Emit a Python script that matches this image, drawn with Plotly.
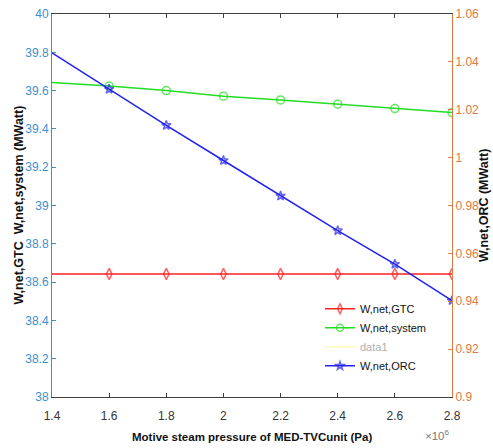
import plotly.graph_objects as go

# Motive steam pressure (Pa)
pressure = [1.4e6, 1.6e6, 1.8e6, 2.0e6, 2.2e6, 2.4e6, 2.6e6, 2.8e6]

# Net power outputs (MWatt)
w_net_gtc = [38.642, 38.642, 38.642, 38.642, 38.642, 38.642, 38.642, 38.642]
w_net_system = [39.642, 39.624, 39.600, 39.571, 39.551, 39.529, 39.506, 39.485]
w_net_orc = [1.0438, 1.0286, 1.0135, 0.9988, 0.9840, 0.9695, 0.9555, 0.9403]

x_ticks = [1.4e6, 1.6e6, 1.8e6, 2.0e6, 2.2e6, 2.4e6, 2.6e6, 2.8e6]
x_tick_text = ["1.4", "1.6", "1.8", "2", "2.2", "2.4", "2.6", "2.8"]
left_ticks = [38, 38.2, 38.4, 38.6, 38.8, 39, 39.2, 39.4, 39.6, 39.8, 40]
right_ticks = [0.9, 0.92, 0.94, 0.96, 0.98, 1, 1.02, 1.04, 1.06]

FONT = "Liberation Sans, Arial"
LEFT_COLOR = "#3b8fce"
RIGHT_COLOR = "#e07a45"
AXIS_GRAY = "#404040"
TITLE_COLOR = "#111111"

# the first sample sits on the axis edge without a visible marker
sizes = [0] + [8] * (len(pressure) - 1)
star_sizes = [0] + [7] * (len(pressure) - 1)

fig = go.Figure()
fig.add_trace(go.Scatter(
    x=pressure, y=w_net_gtc, name="W,net,GTC", mode="lines+markers",
    line=dict(color="#ff2020", width=1.5),
    marker=dict(symbol="diamond-tall-open", size=sizes, color="#ff2020", line=dict(width=1.5)),
))
fig.add_trace(go.Scatter(
    x=pressure, y=w_net_system, name="W,net,system", mode="lines+markers",
    line=dict(color="#22dd22", width=1.5),
    marker=dict(symbol="circle-open", size=sizes, color="#22dd22", line=dict(width=1.5)),
))
fig.add_trace(go.Scatter(
    x=[None], y=[None], name="<span style='color:#b0b0b0'>data1</span>", mode="lines",
    line=dict(color="#ffff99", width=1),
))
fig.add_trace(go.Scatter(
    x=pressure, y=w_net_orc, name="W,net,ORC", mode="lines+markers", yaxis="y2",
    line=dict(color="#2222ee", width=1.5),
    marker=dict(symbol="star-open", size=star_sizes, color="#2222ee", line=dict(width=1.5)),
))

fig.update_layout(
    width=493, height=448,
    margin=dict(l=52, r=41, t=14, b=51),
    paper_bgcolor="white", plot_bgcolor="white",
    font=dict(family=FONT, size=12, color="black"),
    showlegend=True,
    legend=dict(
        x=0.67, y=0.268, xanchor="left", yanchor="top",
        bgcolor="rgba(255,255,255,0)", borderwidth=0,
        font=dict(family=FONT, size=11, color=TITLE_COLOR),
        itemwidth=30, tracegroupgap=0,
    ),
    xaxis=dict(
        range=[1.4e6, 2.8e6], tickvals=x_ticks, ticktext=x_tick_text,
        ticks="inside", ticklen=4, tickcolor=AXIS_GRAY, ticklabelstandoff=8,
        showline=True, linecolor=AXIS_GRAY, linewidth=1, mirror="ticks",
        showgrid=False, zeroline=False, automargin=False,
        tickfont=dict(family=FONT, size=12, color="#333333"),
    ),
    yaxis=dict(
        range=[38, 40], tickvals=left_ticks, ticktext=[f"{v:g}" for v in left_ticks],
        ticks="inside", ticklen=4, tickcolor=LEFT_COLOR,
        showline=True, linecolor=LEFT_COLOR, linewidth=1,
        showgrid=False, zeroline=False, automargin=False,
        tickfont=dict(family=FONT, size=12, color=LEFT_COLOR),
    ),
    yaxis2=dict(
        range=[0.9, 1.06], tickvals=right_ticks, ticktext=[f"{v:g}" for v in right_ticks],
        overlaying="y", side="right",
        ticks="inside", ticklen=4, tickcolor=RIGHT_COLOR,
        showline=True, linecolor=RIGHT_COLOR, linewidth=1,
        showgrid=False, zeroline=False, automargin=False,
        tickfont=dict(family=FONT, size=12, color=RIGHT_COLOR),
    ),
    annotations=[
        # axis titles
        dict(text="<b>Motive steam pressure of MED-TVCunit (Pa)</b>",
             xref="paper", yref="paper", x=0.5, y=-0.104,
             xanchor="center", yanchor="middle", showarrow=False,
             font=dict(family=FONT, size=11.5, color=TITLE_COLOR)),
        dict(text="<b>W,net,GTC  W,net,system (MWatt)</b>",
             xref="paper", yref="paper", x=-0.085, y=0.5, textangle=-90,
             xanchor="center", yanchor="middle", showarrow=False,
             font=dict(family=FONT, size=12.5, color=TITLE_COLOR)),
        dict(text="<b>W,net,ORC (MWatt)</b>",
             xref="paper", yref="paper", x=1.079, y=0.5, textangle=-90,
             xanchor="center", yanchor="middle", showarrow=False,
             font=dict(family=FONT, size=12.5, color=TITLE_COLOR)),
        # exponent of the x axis
        dict(text="×10<sup>6</sup>", xref="paper", yref="paper", x=1.0, y=-0.10,
             xanchor="right", yanchor="middle", showarrow=False,
             font=dict(family=FONT, size=11.5, color="#777777")),
    ],
)

fig.write_html("out.html")
